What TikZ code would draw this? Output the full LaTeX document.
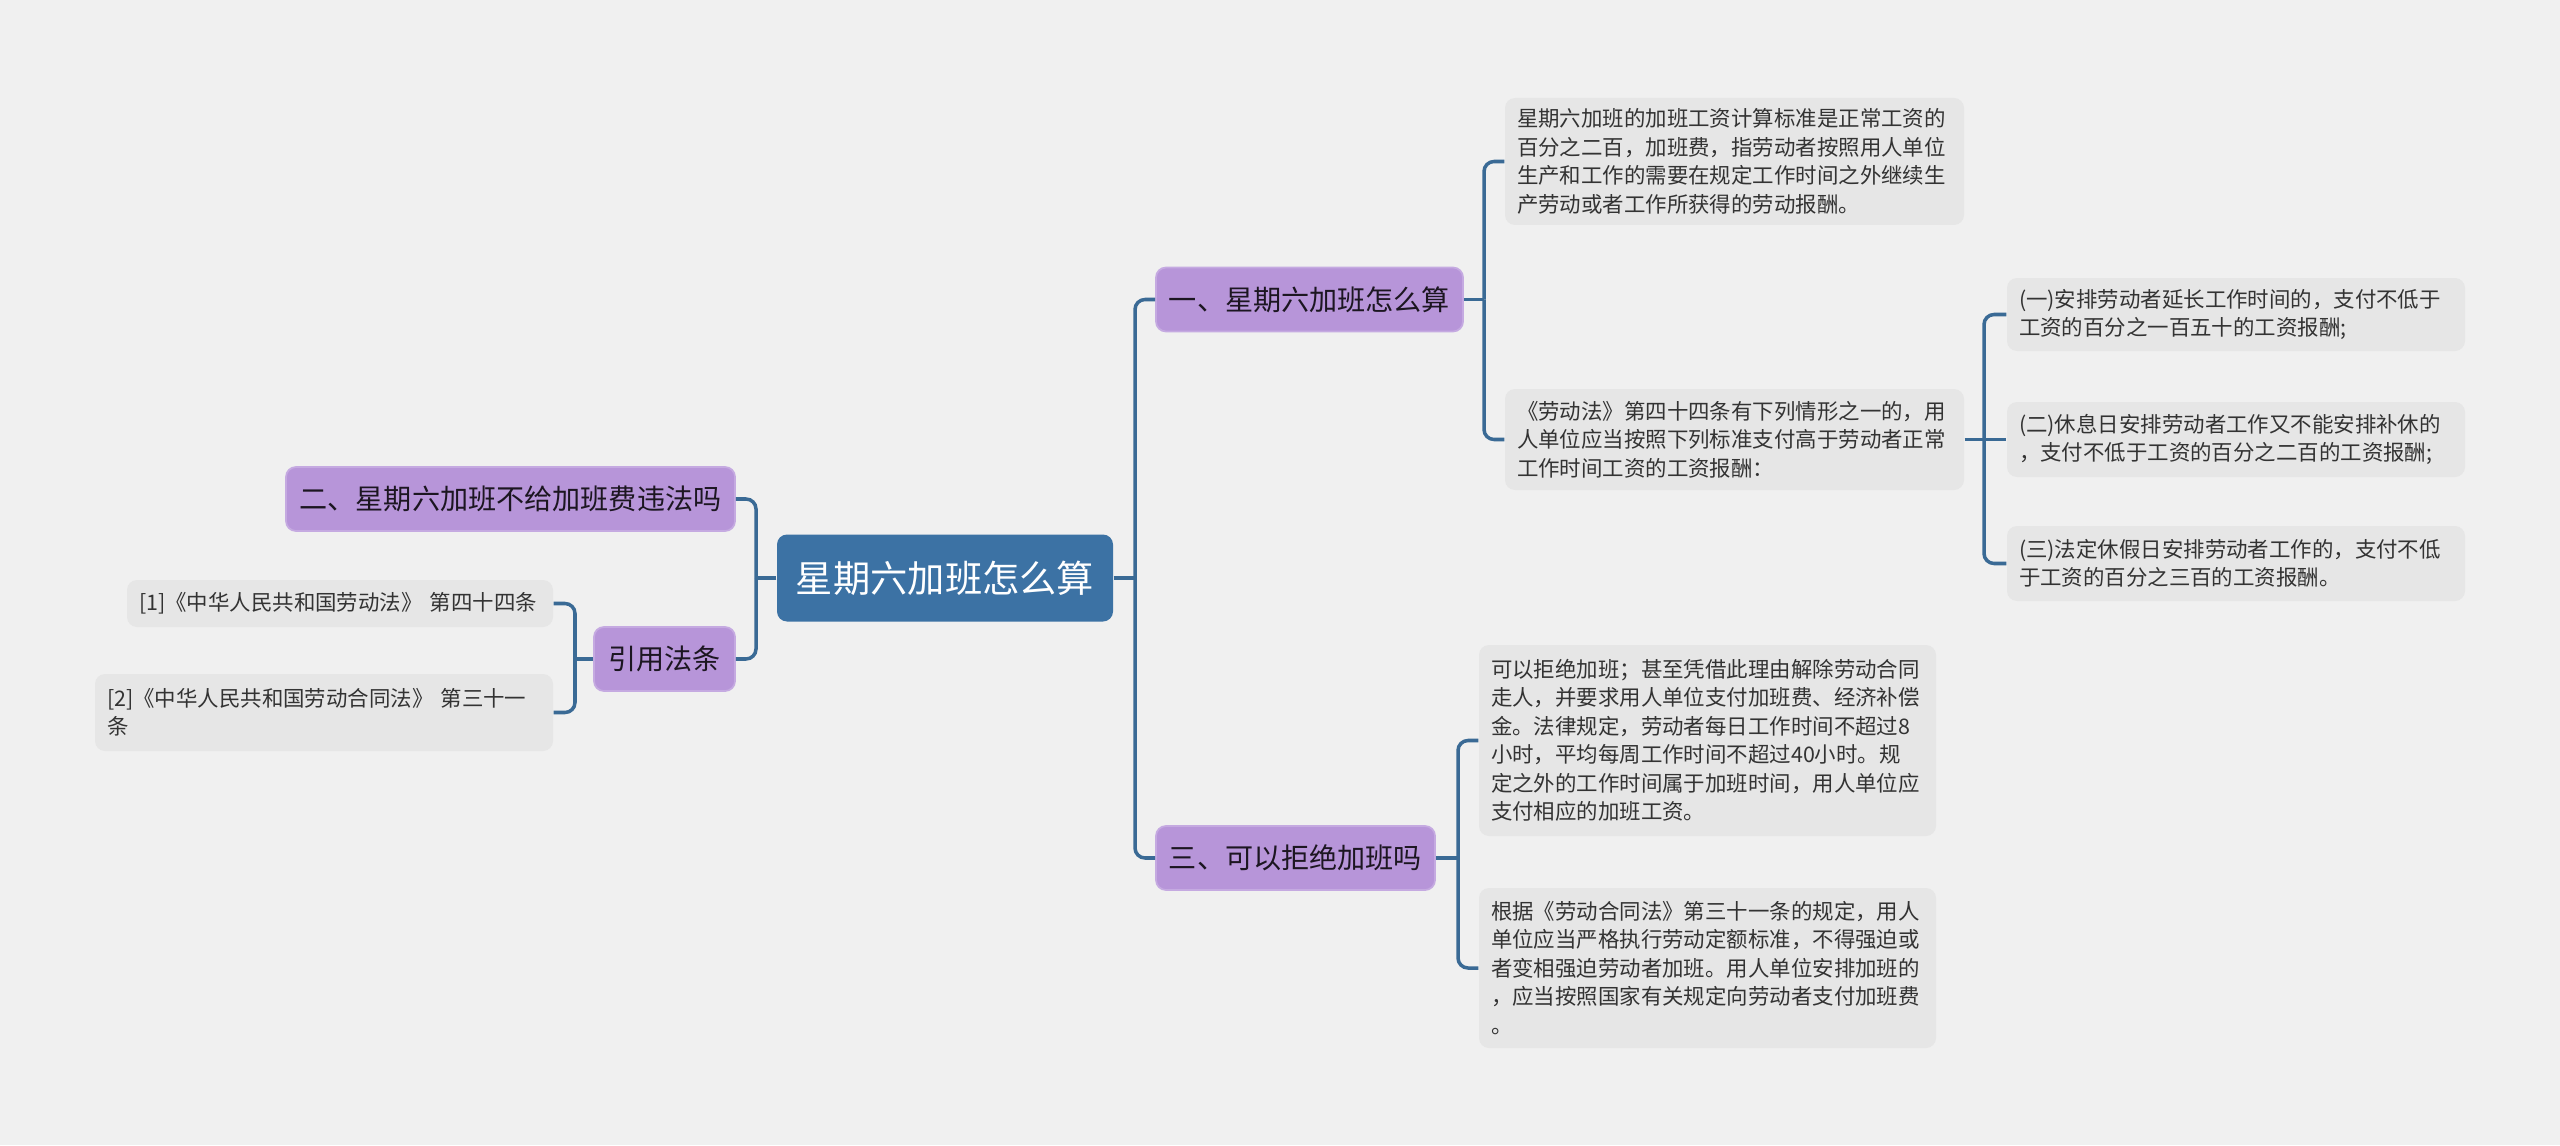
\documentclass[tikz,border=0pt]{standalone}
\usepackage{fontspec}
\setmainfont{Noto Sans CJK SC}
\usepackage{xcolor}
\usepackage{tikz}
\usetikzlibrary{positioning}

\definecolor{bgc}{HTML}{F0F0F0}
\definecolor{leafc}{HTML}{E6E6E6}
\definecolor{topicc}{HTML}{B795D9}
\definecolor{rootc}{HTML}{3C72A4}
\definecolor{linec}{HTML}{3A6A95}
\definecolor{inkc}{HTML}{333333}

\begin{document}
\begin{tikzpicture}[
  rootbox/.style={fill=rootc, text=white, rounded corners=0.1cm,
                  font=\fontsize{10.6}{13}\selectfont, inner sep=0pt,
                  minimum width=3.36cm, minimum height=0.87cm},
  topic/.style={fill=topicc, draw=topicc!80!white, line width=0.5pt,
                text=black!85!topicc, rounded corners=0.1cm,
                font=\fontsize{8}{10}\selectfont, inner sep=0pt, minimum height=0.64cm},
  leaf/.style={fill=leafc, text=inkc, rounded corners=0.1cm, align=left,
               font=\fontsize{6.1}{8.1}\selectfont, inner xsep=0.12cm, inner ysep=0pt},
  link/.style={draw=linec, line width=1pt, rounded corners=0.1cm}
]
\useasboundingbox (0,0) rectangle (25.6,11.45);
\fill[bgc] (0,0) rectangle (25.6,11.45);

% centre and first level
\node[rootbox] (root) at (9.45,5.67) {星期六加班怎么算};
\node[topic, minimum width=3.07cm] (b1) at (13.095,8.455) {一、星期六加班怎么算};
\node[topic, minimum width=4.49cm] (b2) at (5.105,6.46) {二、星期六加班不给加班费违法吗};
\node[topic, minimum width=1.41cm] (cite) at (6.645,4.86) {引用法条};
\node[topic, minimum width=2.79cm] (b3) at (12.955,2.87) {三、可以拒绝加班吗};

% branch one
\node[leaf, text width=4.35cm, minimum height=1.27cm] (a1) at (17.345,9.835)
  {星期六加班的加班工资计算标准是正常工资的\\百分之二百，加班费，指劳动者按照用人单位\\生产和工作的需要在规定工作时间之外继续生\\产劳动或者工作所获得的劳动报酬。};
\node[leaf, text width=4.35cm, minimum height=1.01cm] (a2) at (17.345,7.055)
  {《劳动法》第四十四条有下列情形之一的，用\\人单位应当按照下列标准支付高于劳动者正常\\工作时间工资的工资报酬：};
\node[leaf, text width=4.34cm, minimum height=0.73cm] (s1) at (22.36,8.305)
  {(一)安排劳动者延长工作时间的，支付不低于\\工资的百分之一百五十的工资报酬;};
\node[leaf, text width=4.34cm, minimum height=0.75cm] (s2) at (22.36,7.055)
  {(二)休息日安排劳动者工作又不能安排补休的\\，支付不低于工资的百分之二百的工资报酬;};
\node[leaf, text width=4.34cm, minimum height=0.75cm] (s3) at (22.36,5.815)
  {(三)法定休假日安排劳动者工作的，支付不低\\于工资的百分之三百的工资报酬。};

% branch three
\node[leaf, text width=4.33cm, minimum height=1.91cm] (c1) at (17.075,4.045)
  {可以拒绝加班；甚至凭借此理由解除劳动合同\\走人，并要求用人单位支付加班费、经济补偿\\金。法律规定，劳动者每日工作时间不超过8\\小时，平均每周工作时间不超过40小时。规\\定之外的工作时间属于加班时间，用人单位应\\支付相应的加班工资。};
\node[leaf, text width=4.33cm, minimum height=1.60cm] (c2) at (17.075,1.77)
  {根据《劳动合同法》第三十一条的规定，用人\\单位应当严格执行劳动定额标准，不得强迫或\\者变相强迫劳动者加班。用人单位安排加班的\\，应当按照国家有关规定向劳动者支付加班费\\。};

% cited laws
\node[leaf, text width=4.02cm, minimum height=0.47cm] (r1) at (3.40,5.415)
  {[1]《中华人民共和国劳动法》 第四十四条};
\node[leaf, text width=4.34cm, minimum height=0.77cm] (r2) at (3.24,4.325)
  {[2]《中华人民共和国劳动合同法》 第三十一\\条};

% connectors
\coordinate (tR) at (11.35,5.67);
\coordinate (tL) at (7.56,5.67);
\coordinate (t1) at (14.84,8.455);
\coordinate (t2) at (19.84,7.055);
\coordinate (t3) at (14.58,2.87);
\coordinate (tc) at (5.75,4.86);

\draw[link] (root.east) -- (tR);
\draw[link] (tR) |- (b1.west);
\draw[link] (tR) |- (b3.west);
\draw[link] (root.west) -- (tL);
\draw[link] (tL) |- (b2.east);
\draw[link] (tL) |- (cite.east);

\draw[link] (b1.east) -- (t1);
\draw[link] (t1) |- (a1.west);
\draw[link] (t1) |- (a2.west);
\draw[link] (a2.east) -- (t2);
\draw[link] (t2) |- (s1.west);
\draw[link] (t2) -- (s2.west);
\draw[link] (t2) |- (s3.west);

\draw[link] (b3.east) -- (t3);
\draw[link] (t3) |- (c1.west);
\draw[link] (t3) |- (c2.west);

\draw[link] (cite.west) -- (tc);
\draw[link] (tc) |- (r1.east);
\draw[link] (tc) |- (r2.east);
\end{tikzpicture}
\end{document}
